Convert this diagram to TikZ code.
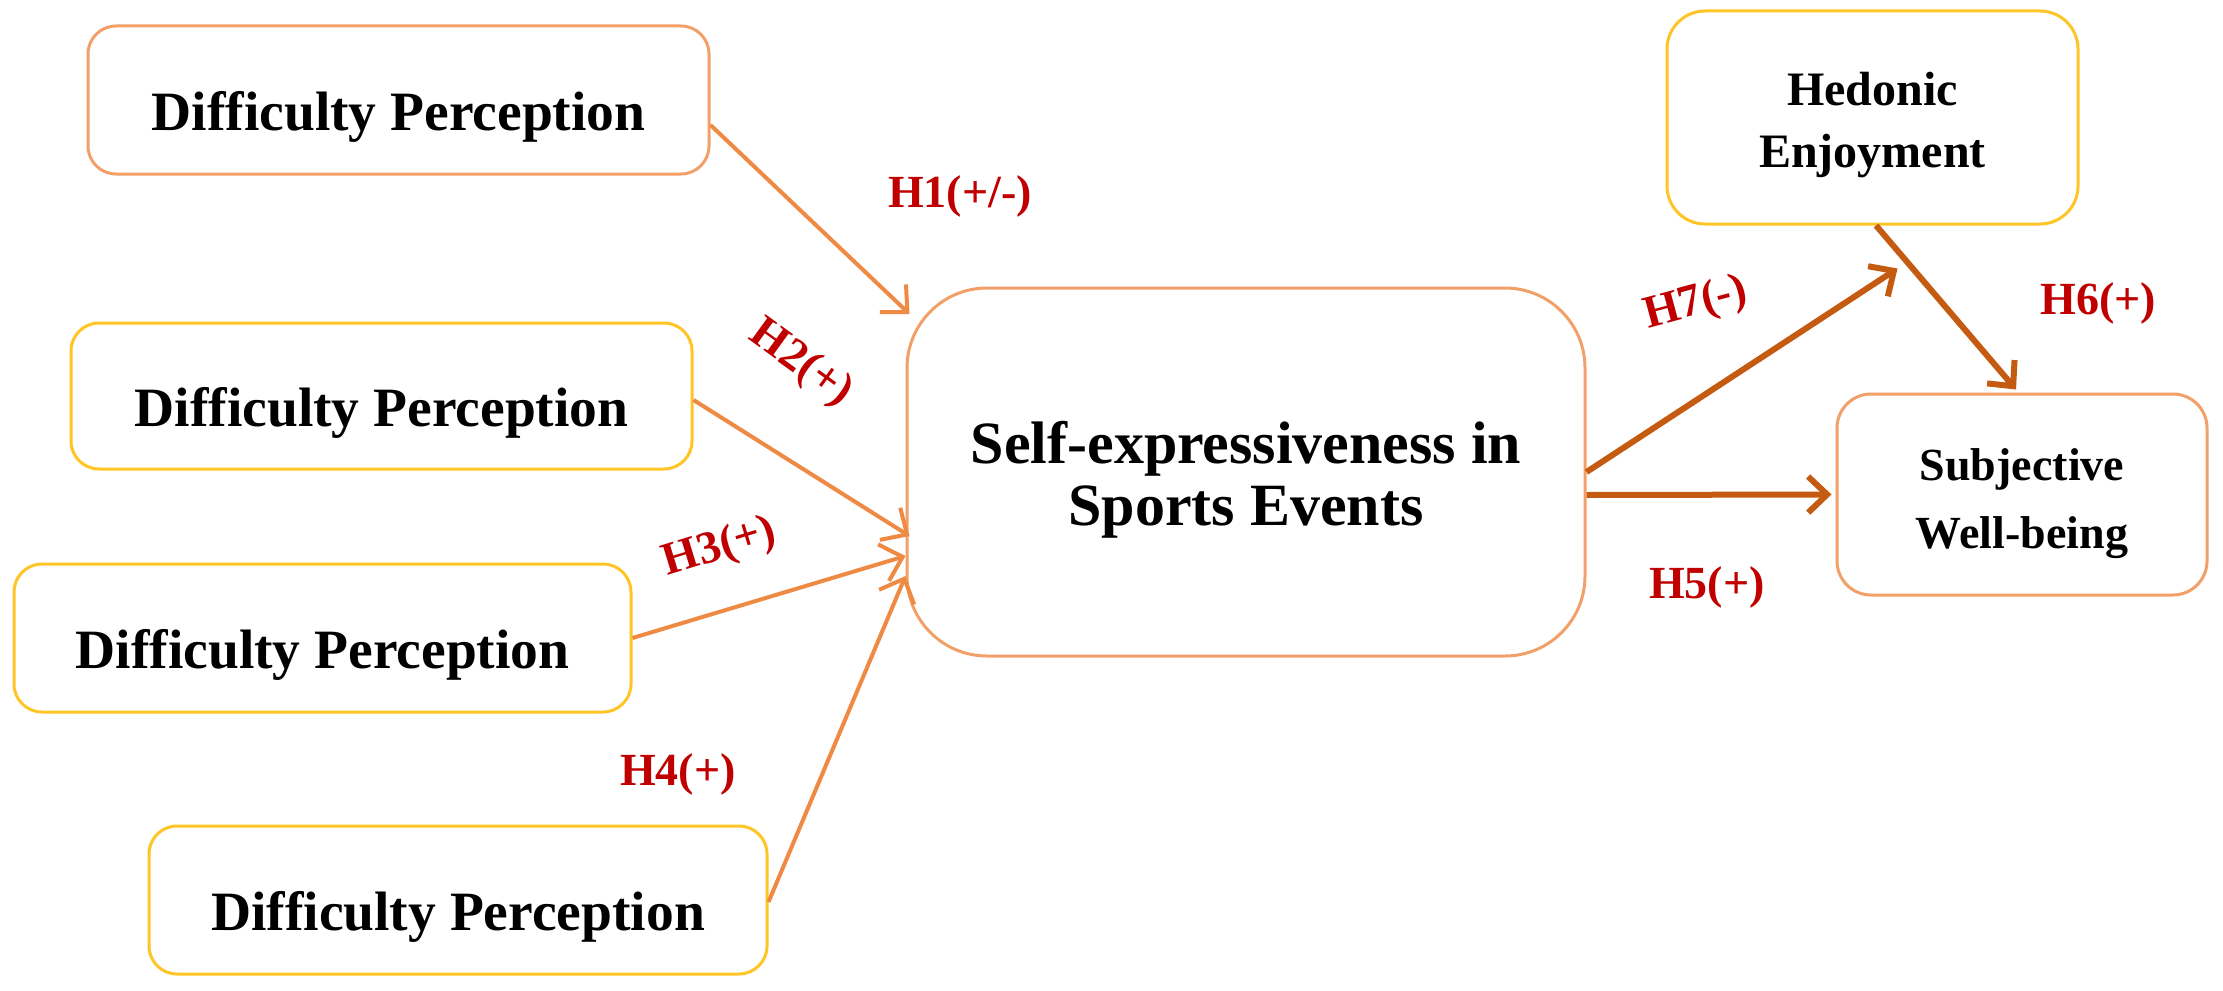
\documentclass[tikz,border=0pt]{standalone}
\usepackage{fontspec}
\setmainfont{Liberation Serif}
\usetikzlibrary{arrows.meta,calc}
\definecolor{boxorange}{HTML}{F2A068}
\definecolor{boxyellow}{HTML}{FFC425}
\definecolor{arrlight}{HTML}{EF8A45}
\definecolor{arrdark}{HTML}{C55A11}
\definecolor{labred}{HTML}{C00000}
\newcommand{\lift}[1]{\rule{0pt}{#1}}
\tikzset{
  x=1pt, y=-1pt,
  dpbox/.style={draw, line width=3pt, rounded corners=28pt, fill=white, align=center,
    font=\fontsize{55.5}{60}\selectfont\bfseries, inner sep=0pt},
  centerbox/.style={draw=boxorange, line width=3pt, rounded corners=80pt, fill=white, align=center,
    font=\fontsize{60}{62}\selectfont\bfseries, inner sep=0pt},
  smallbox/.style={draw, line width=3pt, rounded corners=38pt, fill=white, align=center, inner sep=0pt},
  lightarrow/.style={draw=arrlight, line width=4pt, -{Straight Barb[length=20pt,width=38pt,line width=4pt]}},
  darkarrow/.style={draw=arrdark, line width=6pt, -{Straight Barb[length=19pt,width=36pt,line width=6pt]}},
  hlabel/.style={text=labred, font=\fontsize{46}{50}\selectfont\bfseries, inner sep=0pt}
}
\begin{document}
\begin{tikzpicture}
\useasboundingbox (0,0) rectangle (2223,990);
\fill[white] (0,0) rectangle (2223,990);

\node[dpbox, draw=boxorange, minimum width=621pt, minimum height=148pt] (dp1) at (398.5,100) {\lift{72pt}Difficulty Perception};
\node[dpbox, draw=boxyellow, minimum width=621pt, minimum height=146pt] (dp2) at (381.5,396) {\lift{72pt}Difficulty Perception};
\node[dpbox, draw=boxyellow, minimum width=617pt, minimum height=148pt] (dp3) at (322.5,638) {\lift{72pt}Difficulty Perception};
\node[dpbox, draw=boxyellow, minimum width=618pt, minimum height=148pt] (dp4) at (458,900) {\lift{72pt}Difficulty Perception};

\node[centerbox, minimum width=678pt, minimum height=368pt] (c) at (1246,472) {\lift{57pt}Self-expressiveness in\\Sports Events};

\node[smallbox, draw=boxyellow, minimum width=411pt, minimum height=213pt,
  font=\fontsize{48}{62}\selectfont\bfseries] (hed) at (1872.5,117.5) {\lift{49pt}Hedonic\\Enjoyment};
\node[smallbox, draw=boxorange, rounded corners=34pt, minimum width=370pt, minimum height=201pt,
  font=\fontsize{46}{68}\selectfont\bfseries] (swb) at (2022,494.5) {\lift{51pt}Subjective\\Well-being};

\coordinate (h7end) at ($(hed.south)+(25,43)$);

\draw[lightarrow] ($(dp1.east)+(0,25)$) -- ($(c.west)+(4,-158)$);
\draw[lightarrow] ($(dp2.east)+(0,4)$) -- ($(c.west)+(4,64)$);
\draw[lightarrow] (dp3.east) -- ($(c.west)+(0,84)$);
\draw[lightarrow] ($(dp4.east)+(0,2)$) -- ($(c.west)+(0,104)$);

\draw[darkarrow] (c.east) -- (h7end);
\draw[darkarrow] ($(c.east)+(0,23)$) -- ($(swb.west)+(-4,0)$);
\draw[darkarrow] ($(hed.south)+(3.5,0)$) -- ($(swb.north)+(-6,-3)$);

\node[hlabel] (l1) at (960,196) {H1(+/-)};
\node[hlabel, rotate=-36] (l2) at (801,364) {H2(+)};
\node[hlabel, rotate=17] (l3) at (720,548) {H3(+)};
\node[hlabel] (l4) at (678,774) {H4(+)};
\node[hlabel, rotate=15] (l7) at (1696,304) {H7(-)};
\node[hlabel] (l6) at (2098,303) {H6(+)};
\node[hlabel] (l5) at (1707,587) {H5(+)};
\end{tikzpicture}
\end{document}
